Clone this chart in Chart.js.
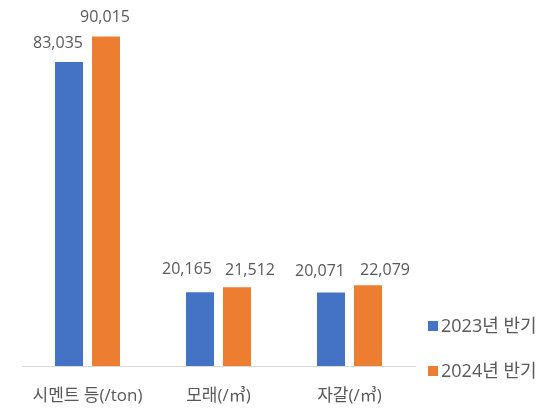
<!DOCTYPE html>
<html>
<head>
<meta charset="utf-8">
<script src="https://cdn.jsdelivr.net/npm/chart.js@4/dist/chart.umd.min.js"></script>
<style>
    html, body { margin: 0; padding: 0; background: #ffffff; }
    #wrap { width: 557px; height: 411px; }
</style>
</head>
<body>
<div id="wrap"><canvas id="myChart" width="557" height="411"></canvas></div>
<script>
const categories = ['시멘트 등(/ton)', '모래(/㎥)', '자갈(/㎥)'];
const seriesNames = ['2023년 반기', '2024년 반기'];
const values2023 = [83035, 20165, 20071];
const values2024 = [90015, 21512, 22079];

const textColor = '#595959';
const fontFamily = "'Open Sans', 'Noto Sans CJK KR', sans-serif";

// value labels above each bar, nudged apart like the original
const barLabels = {
    id: 'barLabels',
    afterDatasetsDraw(chart, args, opts) {
        const ctx = chart.ctx;
        ctx.save();
        ctx.font = '16px ' + fontFamily;
        ctx.fillStyle = textColor;
        ctx.textAlign = 'center';
        ctx.textBaseline = 'alphabetic';
        chart.data.datasets.forEach((ds, i) => {
            chart.getDatasetMeta(i).data.forEach((bar, j) => {
                const off = opts.offsets[i][j];
                ctx.fillText(ds.data[j].toLocaleString('en-US'), bar.x + off[0], bar.y + off[1]);
            });
        });
        ctx.restore();
    }
};

// legend drawn in the right-hand padding area
const sideLegend = {
    id: 'sideLegend',
    afterDraw(chart) {
        const ctx = chart.ctx;
        const x = chart.chartArea.right + 13;
        const rows = [326, 371];
        ctx.save();
        ctx.font = '18px ' + fontFamily;
        ctx.textBaseline = 'middle';
        ctx.textAlign = 'left';
        chart.data.datasets.forEach((ds, i) => {
            ctx.fillStyle = ds.backgroundColor;
            ctx.fillRect(x, rows[i] - 5, 10, 10);
            ctx.fillStyle = textColor;
            ctx.fillText(ds.label, x + 13, rows[i] + 1);
        });
        ctx.restore();
    }
};

const ctx = document.getElementById('myChart').getContext('2d');
const myChart = new Chart(ctx, {
    type: 'bar',
    data: {
        labels: categories,
        datasets: [
            {
                label: seriesNames[0],
                data: values2023,
                backgroundColor: '#4472C4',
                categoryPercentage: 0.565,
                barPercentage: 0.757,
            },
            {
                label: seriesNames[1],
                data: values2024,
                backgroundColor: '#ED7D31',
                categoryPercentage: 0.565,
                barPercentage: 0.757,
            },
        ]
    },
    options: {
        responsive: false,
        animation: false,
        layout: {
            padding: { left: 22, right: 142, top: 0, bottom: 0 }
        },
        plugins: {
            legend: { display: false },
            tooltip: { enabled: false },
            barLabels: {
                // [dx, dy] per series, per category
                offsets: [
                    [[-11, -14], [-13, -18], [-11, -17]],
                    [[-1, -15], [13, -12], [17, -10]]
                ]
            }
        },
        scales: {
            x: {
                grid: { display: false, drawTicks: false },
                border: { display: true, color: '#d9d9d9', width: 1 },
                ticks: {
                    color: textColor,
                    padding: 20,
                    font: { family: fontFamily, size: 17 }
                },
                afterFit(scale) {
                    scale.height = 45;
                }
            },
            y: {
                display: false,
                min: 0,
                max: 100000
            }
        }
    },
    plugins: [barLabels, sideLegend]
});
</script>
</body>
</html>
